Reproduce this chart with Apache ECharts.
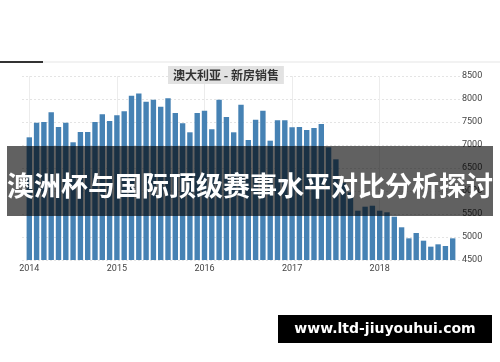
<!DOCTYPE html>
<html>
<head>
<meta charset="utf-8">
<script src="https://cdn.jsdelivr.net/npm/echarts@6/dist/echarts.min.js"></script>
<style>html,body{margin:0;padding:0;background:#fff;}#c{width:500px;height:362px;}</style>
</head>
<body>
<div id="c"></div>
<script>
// Month categories: one padding month before (2013-12) and after (2018-12)
var categories = [
  '2013-12',
  '2014-01','2014-02','2014-03','2014-04','2014-05','2014-06','2014-07','2014-08','2014-09','2014-10','2014-11','2014-12',
  '2015-01','2015-02','2015-03','2015-04','2015-05','2015-06','2015-07','2015-08','2015-09','2015-10','2015-11','2015-12',
  '2016-01','2016-02','2016-03','2016-04','2016-05','2016-06','2016-07','2016-08','2016-09','2016-10','2016-11','2016-12',
  '2017-01','2017-02','2017-03','2017-04','2017-05','2017-06','2017-07','2017-08','2017-09','2017-10','2017-11','2017-12',
  '2018-01','2018-02','2018-03','2018-04','2018-05','2018-06','2018-07','2018-08','2018-09','2018-10','2018-11',
  '2018-12'
];
var sales = [
  null,
  7167,7485,7500,7711,7391,7485,7059,7283,7283,7500,7667,7522,
  7645,7733,8072,8117,7942,7985,7833,8014,7696,7472,7276,7696,
  7746,7341,7985,7609,7276,7877,7109,7551,7746,7094,7537,7537,
  7385,7391,7326,7370,7457,6950,6689,6180,5972,5572,5659,5680,
  5572,5537,5442,5211,4971,5087,4920,4790,4841,4804,4971,
  null
];
var yTicks = { min: 4500, max: 8500, step: 500 };
var chartTitle = '澳大利亚 - 新房销售';
var overlayTitle = '澳洲杯与国际顶级赛事水平对比分析探讨';
var watermark = 'www.ltd-jiuyouhui.com';

var isJan = function (idx, val) { return typeof val === 'string' && val.slice(5) === '01'; };

var chart = echarts.init(document.getElementById('c'), null, { renderer: 'canvas' });
chart.setOption({
  animation: false,
  backgroundColor: '#ffffff',
  title: {
    text: chartTitle,
    left: 168, top: 66,
    backgroundColor: '#e2e2e2',
    padding: [3, 5, 3, 5],
    textStyle: { fontSize: 12, fontWeight: 'bold', color: '#333', fontFamily: 'Noto Sans CJK SC' }
  },
  grid: { left: 22, right: 40, top: 76, bottom: 102 },
  xAxis: {
    type: 'category',
    data: categories,
    boundaryGap: false,
    axisLine: { show: false },
    axisTick: { show: false },
    axisLabel: {
      interval: isJan,
      formatter: function (v) { return v.slice(0, 4); },
      fontSize: 9, color: '#444', margin: 4, fontFamily: 'Liberation Sans Narrow, Roboto'
    },
    splitLine: { show: true, interval: isJan, lineStyle: { color: '#ececec', width: 1 } }
  },
  yAxis: {
    type: 'value',
    position: 'right',
    min: yTicks.min, max: yTicks.max, interval: yTicks.step,
    axisLine: { show: false },
    axisTick: { show: false },
    axisLabel: { fontSize: 9, color: '#444', margin: 2, fontFamily: 'Liberation Sans Narrow, Roboto',
      formatter: function (v) { return String(v); } },
    splitLine: { show: true, lineStyle: { color: '#e4e4e4', type: [2, 2] } }
  },
  series: [{
    type: 'bar',
    data: sales,
    barWidth: 5.4,
    itemStyle: { color: '#4682b4' }
  }],
  graphic: [
    { type: 'rect', z: 100, shape: { x: 0, y: 61.5, width: 500, height: 1 }, style: { fill: '#e6e6e6' } },
    { type: 'rect', z: 101, shape: { x: 0, y: 61, width: 43, height: 2 }, style: { fill: '#333' } },
    { type: 'rect', z: 100, shape: { x: 7, y: 146, width: 486, height: 70 }, style: { fill: 'rgba(0,0,0,0.62)' } },
    { type: 'text', z: 101, x: 250, y: 186,
      style: { text: overlayTitle, fill: '#fff', font: 'bold 27px "Noto Sans CJK SC"', textAlign: 'center', textVerticalAlign: 'middle' } },
    { type: 'rect', z: 100, shape: { x: 278, y: 315, width: 214, height: 28 }, style: { fill: '#000' } },
    { type: 'text', z: 101, x: 385, y: 329.5,
      style: { text: watermark, fill: '#fff', font: 'bold 14px "DejaVu Sans"', textAlign: 'center', textVerticalAlign: 'middle' } }
  ]
});
</script>
</body>
</html>
